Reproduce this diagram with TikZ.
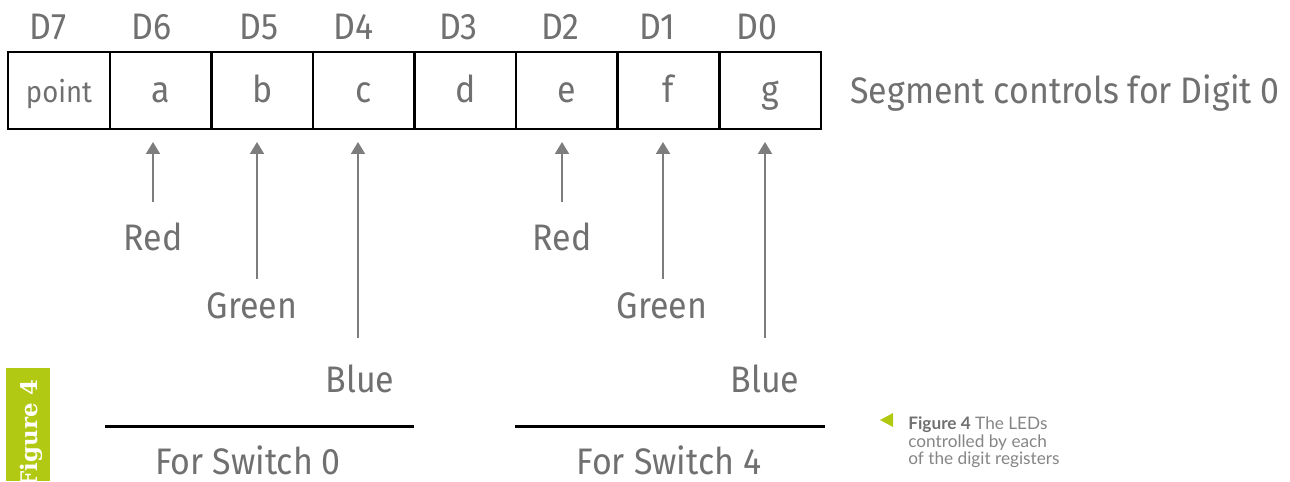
\documentclass[tikz,border=0pt]{standalone}
\usepackage{fontspec}
\setmainfont{Fira Sans}[FakeStretch=0.92]
\newfontfamily\capfont{Lato}
\newfontfamily\tabfont{DejaVu Serif}
\usetikzlibrary{arrows.meta,positioning}

\definecolor{txtgray}{RGB}{112,112,112}
\definecolor{arrowgray}{RGB}{125,125,125}
\definecolor{figgreen}{RGB}{178,201,20}

\tikzset{
    regcell/.style={draw=black, line width=1.4pt, minimum width=2.032cm, minimum height=1.54cm,
        inner sep=0pt, outer sep=0pt, text height=14pt, text depth=0pt,
        text=txtgray, font=\fontsize{21}{24}\selectfont},
    biglbl/.style={text=txtgray, inner sep=0pt, font=\fontsize{21}{24}\selectfont},
    ledarrow/.style={draw=arrowgray, line width=1.1pt, -{Triangle[width=0.28cm,length=0.24cm]}},
    underline/.style={draw=black, line width=1.7pt}
}

\begin{document}
\begin{tikzpicture}[x=0.02cm, y=-0.02cm]
    \useasboundingbox (0,0) rectangle (1290,481);

    % Register cells
    \node[regcell, font=\fontsize{17}{20}\selectfont] (segpoint) at (59,90.5) {point};
    \foreach \seg/\prev in {a/point, b/a, c/b, d/c, e/d, f/e, g/f}
        \node[regcell, right=0pt of seg\prev] (seg\seg) {\seg};

    % Bit numbers
    \foreach \seg/\bit/\dx in {point/7/-11, a/6/-9, b/5/-3, c/4/-10, d/3/-7, e/2/-7, f/1/-11, g/0/-13}
        \node[biglbl, anchor=base, xshift=\dx*0.02cm] (bit\bit) at (seg\seg.north |- 0,39) {D\bit};

    \node[biglbl, anchor=base west] (title) at (850,103) {Segment controls for Digit 0};

    % LED labels
    \node[biglbl, anchor=base] (red0) at (153,250) {Red};
    \node[biglbl, anchor=base] (green0) at (252,318) {Green};
    \node[biglbl, anchor=base] (blue0) at (360,392) {Blue};
    \node[biglbl, anchor=base] (red4) at (562,250) {Red};
    \node[biglbl, anchor=base] (green4) at (662,318) {Green};
    \node[biglbl, anchor=base] (blue4) at (765,392) {Blue};

    % Arrows up to the cells
    \foreach \lbl/\seg/\ax/\gap in {red0/a/153/20, green0/b/257/13, blue0/c/358/26,
                                    red4/e/562/20, green4/f/663/13, blue4/g/765/26} {
        \pgfmathsetmacro\gp{\gap*0.02}
        \draw[ledarrow, shorten <=\gp cm, shorten >=0.26cm] (\lbl.north -| \ax,0) -- (seg\seg.south -| \ax,0);
    }

    % Switch groups
    \node[biglbl, anchor=base] (sw0) at (248,474) {For Switch 0};
    \node[biglbl, anchor=base] (sw4) at (669,474) {For Switch 4};
    \draw[underline] (105,426) -- (414,426);
    \draw[underline] (515,426) -- (825,426);

    % Figure tab
    \fill[figgreen] (6,368) rectangle (50,481);
    \node[anchor=base east, rotate=90, inner sep=0pt, text=white, font=\tabfont\bfseries\fontsize{13}{15}\selectfont] (tab) at (37,379) {Figure 4};

    % Caption
    \fill[figgreen] (880,420) -- (893,413) -- (893,427) -- cycle;
    \node[anchor=north west, inner sep=0pt, align=left, text=txtgray!85,
        font=\capfont\fontsize{9.8}{10.2}\selectfont] (caption) at (908,416)
        {{\bfseries\color{txtgray}Figure 4} The LEDs\\controlled by each\\of the digit registers};
\end{tikzpicture}
\end{document}
